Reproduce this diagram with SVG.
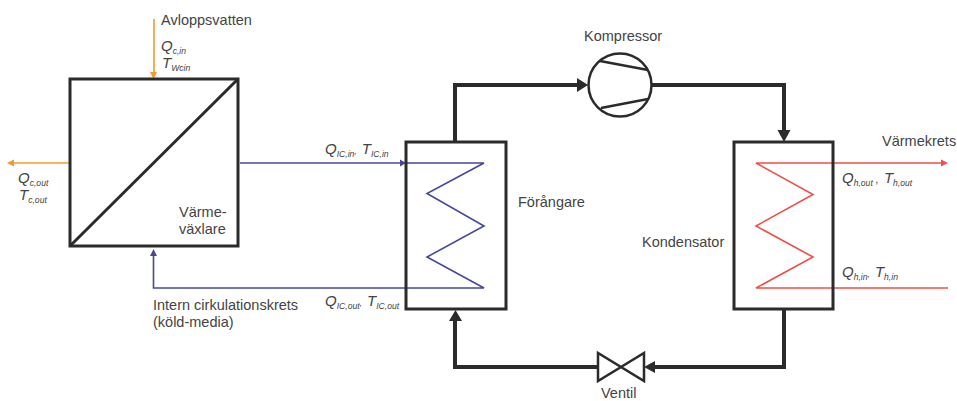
<svg xmlns="http://www.w3.org/2000/svg" width="957" height="401" viewBox="0 0 957 401">
<style>
text{font-family:"Liberation Sans",Arial,sans-serif;font-size:14.5px;fill:#444}
.q{font-style:italic;font-size:15px}
.s{font-size:8.6px}
.box{fill:none;stroke:#2b2b2b;stroke-width:3}
.pipe{fill:none;stroke:#2b2b2b;stroke-width:4}
.o{fill:none;stroke:#f39a2e;stroke-width:1.6}
.b{fill:none;stroke:#46479b;stroke-width:1.6}
.r{fill:none;stroke:#f0504a;stroke-width:1.6}
</style>
<rect width="957" height="401" fill="#fff"/>
<g id="connectors">
<path class="pipe" d="M455 142V85H578"/>
<path d="M577 78L588 85L577 92Z" fill="#2b2b2b"/>
<path class="pipe" d="M652 85H784V130"/>
<path d="M777.500 130H790.500L784 142Z" fill="#2b2b2b"/>
<path class="pipe" d="M784 309V367H654"/>
<path d="M655 361L644 367L655 373Z" fill="#2b2b2b"/>
<path class="pipe" d="M598 367H455V320"/>
<path d="M449 321H462L455.500 310Z" fill="#2b2b2b"/>
<path class="o" d="M154 19V72"/>
<path d="M150 72H157L153.500 79Z" fill="#f39a2e"/>
<path class="o" d="M69 163H14"/>
<path d="M14 159.500V166.500L7 163Z" fill="#f39a2e"/>
<path class="b" d="M240 163H400"/>
<path d="M400 159.500V166.500L406 163Z" fill="#46479b"/>
<path class="b" d="M406 163H484L427 193.500L484 226L427 257L484 288H153.500V256"/>
<path d="M150 256H157L153.500 249Z" fill="#46479b"/>
<path class="r" d="M946 163H756L813 194.500L756 226L813 257L756 288H948"/>
<path d="M941 159.500V166.500L948 163Z" fill="#f0504a"/>
</g>
<g id="varmevaxlare">
<rect class="box" x="70" y="79" width="168" height="167"/>
<path class="box" d="M70 246L238 79"/>
<text x="179" y="217">Värme-</text>
<text x="179" y="234">växlare</text>
</g>
<g id="forangare">
<rect class="box" x="406" y="142" width="100" height="167"/>
<text x="518" y="207">Förångare</text>
</g>
<g id="kondensator">
<rect class="box" x="734" y="142" width="99" height="167"/>
<text x="642" y="247">Kondensator</text>
</g>
<g id="kompressor">
<circle cx="620" cy="85" r="31.500" fill="#fff" stroke="#2b2b2b" stroke-width="2.500"/>
<path fill="none" stroke="#2b2b2b" stroke-width="2.500" d="M600 61L648 70M601 108L648 99"/>
<text x="584" y="41">Kompressor</text>
</g>
<g id="ventil">
<path fill="#fff" stroke="#2b2b2b" stroke-width="2.500" d="M598 353V381L644 353V381Z"/>
<text x="601" y="398">Ventil</text>
</g>
<g id="labels">
<text x="161" y="25">Avloppsvatten</text>
<text x="161" y="51" class="q">Q<tspan class="s" dy="3">c,in</tspan></text>
<text x="162" y="68" class="q">T<tspan class="s" dy="3">Wcin</tspan></text>
<text x="18" y="183" class="q">Q<tspan class="s" dy="3">c,out</tspan></text>
<text x="19" y="200" class="q">T<tspan class="s" dy="3">c,out</tspan></text>
<text x="325" y="154" class="q">Q<tspan class="s" dy="3">IC,in</tspan><tspan class="s" dy="-3">,</tspan><tspan dx="5">T</tspan><tspan class="s" dy="3">IC,in</tspan></text>
<text x="325" y="306" class="q">Q<tspan class="s" dy="3">IC,out</tspan><tspan class="s" dy="-3">,</tspan><tspan dx="5">T</tspan><tspan class="s" dy="3">IC,out</tspan></text>
<text x="153" y="310">Intern cirkulationskrets</text>
<text x="153" y="327">(köld-media)</text>
<text x="882" y="146">Värmekrets</text>
<text x="842" y="183" class="q">Q<tspan class="s" dy="3">h,out</tspan><tspan dy="-3" font-size="11"> ,</tspan><tspan dx="5">T</tspan><tspan class="s" dy="3">h,out</tspan></text>
<text x="842" y="277" class="q">Q<tspan class="s" dy="3">h,in</tspan><tspan class="s" dy="-3">,</tspan><tspan dx="5">T</tspan><tspan class="s" dy="3">h,in</tspan></text>
</g>
</svg>
